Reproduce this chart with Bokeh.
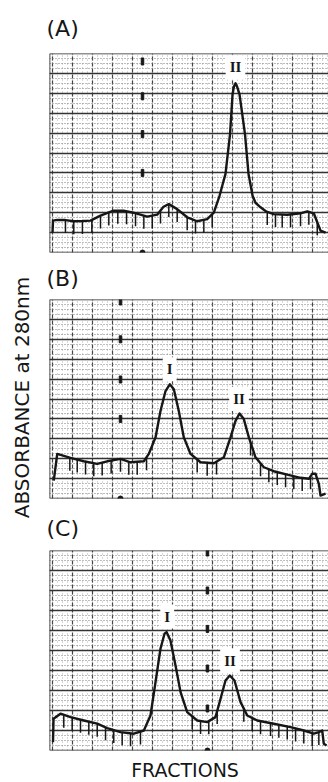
import numpy as np
from bokeh.plotting import figure
from bokeh.layouts import row, column
from bokeh.models import Range1d, SingleIntervalTicker, FixedTicker, Label, Span
from bokeh.core.properties import value
from bokeh.embed import file_html
from bokeh.resources import INLINE

# ---------------- data (x = fraction number, y = absorbance, full scale = 1) -------------
a_x = [0.36, 0.42, 0.92, 1.90, 2.89, 3.93, 4.88, 6.07, 7.62, 8.81, 10.00, 11.63, 12.82, 13.57,
       14.20, 15.20, 16.39, 17.58, 18.77, 19.56, 20.24, 20.95, 21.49, 21.79, 21.96, 22.14, 22.32,
       22.62, 23.27, 23.69, 24.17, 24.52, 25.12, 25.83, 26.70, 28.30, 29.88, 30.68, 31.46, 31.87,
       32.26, 32.86]
a_y = [0.10, 0.16, 0.164, 0.163, 0.157, 0.158, 0.16, 0.185, 0.21, 0.21, 0.20, 0.18, 0.19, 0.23,
       0.243, 0.218, 0.177, 0.157, 0.168, 0.20, 0.285, 0.395, 0.595, 0.795, 0.835, 0.85, 0.835,
       0.795, 0.595, 0.395, 0.285, 0.25, 0.227, 0.205, 0.193, 0.19, 0.197, 0.207, 0.197, 0.152,
       0.11, 0.10]
a_marks = [1.90, 2.89, 3.92, 5.04, 6.07, 7.06, 8.13, 9.17, 10.24, 11.23, 12.23, 13.21, 14.20,
           15.20, 16.39, 17.38, 18.37, 19.37, 25.92, 26.90, 27.70, 28.69, 29.88, 30.87, 31.87]

b_x = [0.51, 0.92, 2.50, 4.08, 5.68, 6.87, 8.45, 9.64, 11.23, 11.82, 12.62, 13.21, 13.81, 14.32,
       14.80, 15.39, 15.99, 16.79, 17.98, 19.56, 20.75, 21.55, 22.14, 22.62, 23.13, 23.73, 24.52,
       25.51, 26.70, 28.30, 29.88, 30.87, 31.27, 31.67, 32.06, 32.26, 32.86]
b_y = [0.09, 0.224, 0.204, 0.187, 0.174, 0.187, 0.199, 0.182, 0.187, 0.224, 0.307, 0.44, 0.54,
       0.574, 0.549, 0.44, 0.307, 0.224, 0.182, 0.177, 0.207, 0.307, 0.39, 0.427, 0.399, 0.307,
       0.207, 0.157, 0.137, 0.12, 0.104, 0.099, 0.124, 0.124, 0.074, 0.015, 0.024]
b_marks = [2.42, 3.30, 4.29, 5.27, 6.27, 7.34, 8.45, 9.44, 10.44, 11.55, 17.58, 18.77, 19.88,
           23.93, 25.12, 26.11, 27.11, 28.10, 29.08, 30.08, 31.07]

c_x = [0.42, 0.48, 1.31, 2.50, 4.08, 5.68, 6.87, 8.45, 10.04, 11.23, 12.02, 12.62, 13.21, 13.69,
       13.93, 14.40, 15.00, 15.60, 16.39, 17.58, 18.77, 19.76, 20.36, 20.95, 21.46, 22.02, 22.74,
       23.54, 24.73, 26.70, 28.69, 30.27, 31.46, 32.06, 32.46, 32.65, 32.98]
c_y = [0.042, 0.159, 0.184, 0.167, 0.15, 0.134, 0.112, 0.092, 0.084, 0.10, 0.175, 0.342, 0.509,
       0.584, 0.592, 0.55, 0.425, 0.292, 0.192, 0.15, 0.142, 0.167, 0.259, 0.35, 0.375, 0.35,
       0.242, 0.175, 0.15, 0.134, 0.117, 0.10, 0.084, 0.092, 0.10, 0.034, 0.025]
c_marks = [1.70, 2.70, 3.69, 4.68, 5.68, 6.67, 7.65, 8.65, 9.64, 10.83, 16.99, 17.98, 18.96,
           19.96, 23.13, 24.13, 25.12, 26.31, 27.30, 28.30, 29.29, 30.27, 31.27, 32.06]

# peak labels: (text, x, y)
a_peaks = [("II", 22.14, 0.93)]
b_peaks = [("I", 14.30, 0.65), ("II", 22.56, 0.50)]
c_peaks = [("I", 14.01, 0.67), ("II", 21.49, 0.45)]

# recorder event marks on the paper: x, list of y
a_events = (11.07, [0.96, 0.785, 0.595, 0.40])
b_events = (8.45, [0.99, 0.80, 0.598, 0.40])
c_events = (18.80, [0.99, 0.80, 0.608, 0.41, 0.21])

panel_names = ["(A)", "(B)", "(C)"]
y_title = "ABSORBANCE at 280nm"
x_title = "FRACTIONS"

INK = "#161616"
X_END = 33.21
MARK_LEN = 0.065


def panel(name, xs, ys, marks, peaks, events, height, top, standoff):
    p = figure(width=282, height=height, output_backend="svg", toolbar_location=None,
               x_range=Range1d(0, X_END), y_range=Range1d(0, 1),
               min_border_left=3, min_border_right=0, min_border_top=top,
               min_border_bottom=height - top - 200)
    p.xaxis.visible = False
    p.yaxis.visible = False
    p.background_fill_color = "white"
    p.border_fill_color = "white"
    p.outline_line_color = None

    p.ygrid.ticker = SingleIntervalTicker(interval=0.1, num_minor_ticks=4)
    p.ygrid.grid_line_color = "#333333"
    p.ygrid.grid_line_width = 1.5
    p.ygrid.minor_grid_line_color = "#7a7a7a"
    p.ygrid.minor_grid_line_dash = "1 2"
    p.ygrid.minor_grid_line_width = 1

    p.xgrid.ticker = FixedTicker(ticks=list(np.arange(0.35, X_END, 20 / 8.4)),
                                 minor_ticks=list(np.arange(0.35, X_END, 5 / 8.4)))
    p.xgrid.grid_line_color = "#444444"
    p.xgrid.grid_line_dash = "4 2"
    p.xgrid.grid_line_width = 1.2
    p.xgrid.minor_grid_line_color = "#b0b0b0"
    p.xgrid.minor_grid_line_dash = "1 3"

    for loc, dim in ((0, "height"), (0, "width"), (1, "width")):
        p.add_layout(Span(location=loc, dimension=dim, line_color="#222222", line_width=1.6))

    p.title.text = name
    p.title.text_font = "DejaVu Sans"
    p.title.text_font_size = "22px"
    p.title.text_font_style = "normal"
    p.title.text_color = INK
    p.title.align = "left"
    p.title.offset = -3
    p.title.standoff = standoff

    # event marks
    ex, eys = events
    p.rect([ex] * len(eys), eys, width=2.5, height=7, width_units="screen",
           height_units="screen", color=INK)
    p.scatter([ex], [0.0], size=5, color=INK)

    # fraction marks hanging from the trace
    tops = np.interp(marks, xs, ys)
    p.segment(x0=marks, y0=tops, x1=marks, y1=tops - MARK_LEN, line_color=INK, line_width=1.5)

    # trace
    p.line(xs, ys, line_color=INK, line_width=2.4, line_join="round")

    for txt, lx, ly in peaks:
        p.add_layout(Label(x=lx, y=ly, text=txt, text_font="Liberation Serif",
                           text_font_style="bold", text_font_size="15px", text_color=INK,
                           text_align="center", text_baseline="middle",
                           background_fill_color="white", padding=4))
    return p


pA = panel(panel_names[0], a_x, a_y, a_marks, a_peaks, a_events, 255, 52, 26)
pB = panel(panel_names[1], b_x, b_y, b_marks, b_peaks, b_events, 247, 43, 17)
pC = panel(panel_names[2], c_x, c_y, c_marks, c_peaks, c_events, 251, 48, 19)

ylab = figure(width=46, height=782, output_backend="svg", toolbar_location=None,
              x_range=Range1d(0, 46), y_range=Range1d(0, 782),
              x_axis_type=None, y_axis_type=None, min_border=0, outline_line_color=None)
ylab.text(x=[21], y=[385], text=[y_title], angle=np.pi / 2, text_align="center",
          text_baseline="middle", text_font=value("DejaVu Sans"), text_font_size="20px",
          text_color=INK)

xlab = figure(width=282, height=29, output_backend="svg", toolbar_location=None,
              x_range=Range1d(0, 282), y_range=Range1d(0, 29),
              x_axis_type=None, y_axis_type=None, min_border=0, outline_line_color=None)
xlab.text(x=[137], y=[13], text=[x_title], text_align="center", text_baseline="middle",
          text_font=value("DejaVu Sans"), text_font_size="19px", text_color=INK)

layout = row(ylab, column(pA, pB, pC, xlab))
open("out.html", "w").write(file_html(layout, INLINE))
